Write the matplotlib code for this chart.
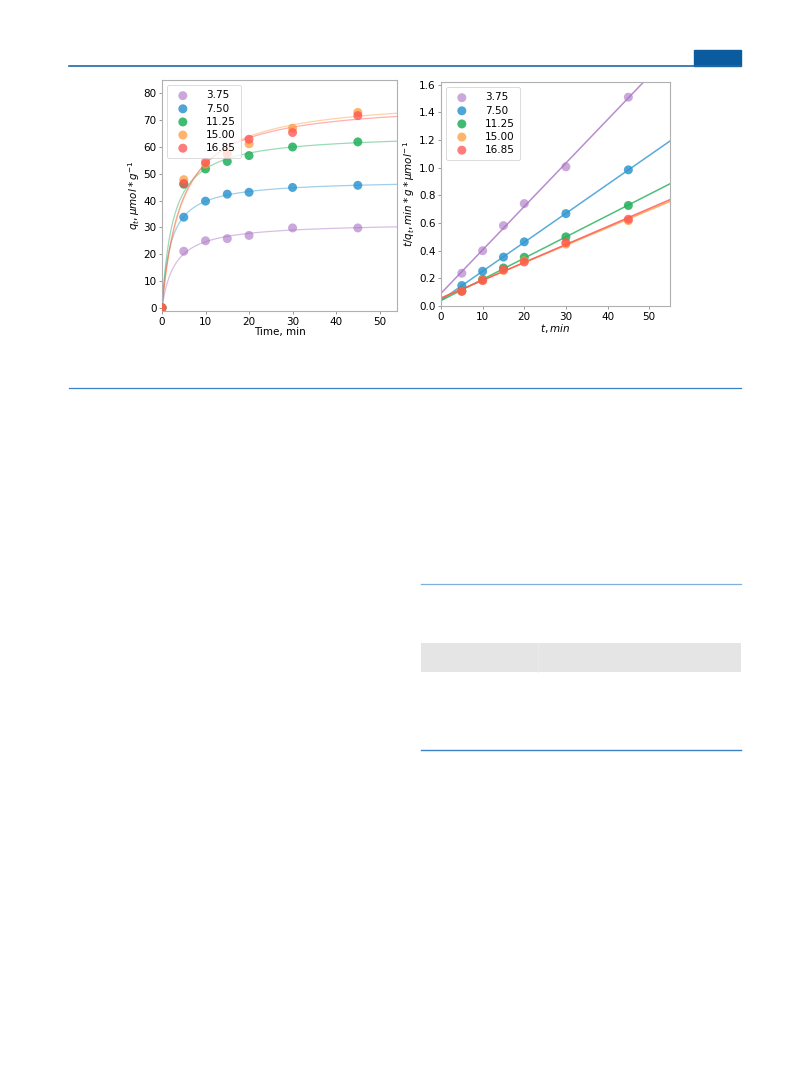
import matplotlib
matplotlib.use("Agg")
import matplotlib.pyplot as plt
import numpy as np

# sorption kinetics data, time in min, q_t in umol/g
t = np.array([0, 5, 10, 15, 20, 30, 45])
labels = ["3.75", "7.50", "11.25", "15.00", "16.85"]
q375 = [0, 21.1, 25.0, 25.8, 27.0, 29.8, 29.8]
q750 = [0, 33.8, 39.8, 42.4, 43.1, 44.9, 45.7]
q1125 = [0, 46.1, 51.8, 54.6, 56.8, 60.0, 61.9]
q1500 = [0, 47.8, 53.6, 58.3, 61.2, 67.0, 72.9]
q1685 = [0, 46.4, 54.3, 57.3, 62.9, 65.4, 71.7]
series = [q375, q750, q1125, q1500, q1685]
colors = ["#a76fc2", "#2f96d0", "#20b05a", "#ff9a3c", "#ff5050"]
alphas = [0.6, 0.85, 0.85, 0.75, 0.75]

W, H = 809, 1067
fig = plt.figure(figsize=(W / 100, H / 100), dpi=100)
plt.rcParams['font.family'] = ['DejaVu Sans']


def axRect(x0, y0, x1, y1):
    return [x0 / W, 1 - y1 / H, (x1 - x0) / W, (y1 - y0) / H]


def styleAxes(ax):
    for s in ax.spines.values():
        s.set_color("#b0b0b0")
        s.set_linewidth(0.8)
    ax.tick_params(labelsize=7.5, length=2.5, width=0.6, color="#888888", pad=1.5)


# page decoration
page = fig.add_axes([0, 0, 1, 1], zorder=-1)
page.set_xlim(0, W)
page.set_ylim(H, 0)
page.axis("off")
page.plot([69, 741], [66, 66], color="#1f6aa5", lw=1.2)
page.add_patch(plt.Rectangle((694, 50), 47, 16, color="#0b5c9e"))
page.plot([69, 741], [388, 388], color="#3b82c4", lw=0.9)
page.plot([421, 741], [584, 584], color="#7fb0dd", lw=0.9)
page.add_patch(plt.Rectangle((421, 643), 320, 29, color="#e5e5e5", lw=0))
page.plot([538, 538], [643, 672], color="#ebebeb", lw=0.6)
page.plot([421, 741], [750, 750], color="#3b82c4", lw=1.0)

tt = np.linspace(0.01, 56, 400)

# left: q_t vs time with pseudo-second-order fits
ax1 = fig.add_axes(axRect(162, 80, 397, 311))
# right: linearised t/q_t vs t
ax2 = fig.add_axes(axRect(441, 82, 670, 306))

for q, c, a, lab in zip(series, colors, alphas, labels):
    q = np.array(q)
    m = t > 0
    y = t[m] / q[m]
    slope, icpt = np.polyfit(t[m], y, 1)
    ax1.plot(tt, tt / (icpt + slope * tt), color=c, lw=0.9, alpha=0.45)
    ax1.scatter(t, q, s=42, color=c, alpha=a, edgecolors="none", label=lab, zorder=3)
    ax2.plot(tt, icpt + slope * tt, color=c, lw=1.1, alpha=0.8)
    ax2.scatter(t[m], y, s=42, color=c, alpha=a, edgecolors="none", label=lab, zorder=3)

ax1.set_xlim(0, 54)
ax1.set_ylim(-1.2, 85)
ax1.set_xticks([0, 10, 20, 30, 40, 50])
ax1.set_yticks(range(0, 81, 10))
ax1.set_xlabel("Time, min", fontsize=7.5, labelpad=0)
ax1.set_ylabel(r"$q_t, \mu mol * g^{-1}$", fontsize=7.5, labelpad=1)
styleAxes(ax1)

ax2.set_xlim(0, 55)
ax2.set_ylim(0, 1.62)
ax2.set_xticks([0, 10, 20, 30, 40, 50])
ax2.set_yticks(np.arange(0, 1.61, 0.2))
ax2.set_xlabel(r"$t, min$", fontsize=7.5, labelpad=0)
ax2.set_ylabel(r"$t/q_t, min * g * \mu mol^{-1}$", fontsize=7.5, labelpad=1)
styleAxes(ax2)

for ax in (ax1, ax2):
    leg = ax.legend(loc="upper left", fontsize=7.5, frameon=True, borderpad=0.5,
                    handletextpad=1.2, labelspacing=0.3, markerscale=1.0)
    leg.get_frame().set_edgecolor("#cccccc")
    leg.get_frame().set_linewidth(0.6)

fig.savefig("out.png", dpi=100)
